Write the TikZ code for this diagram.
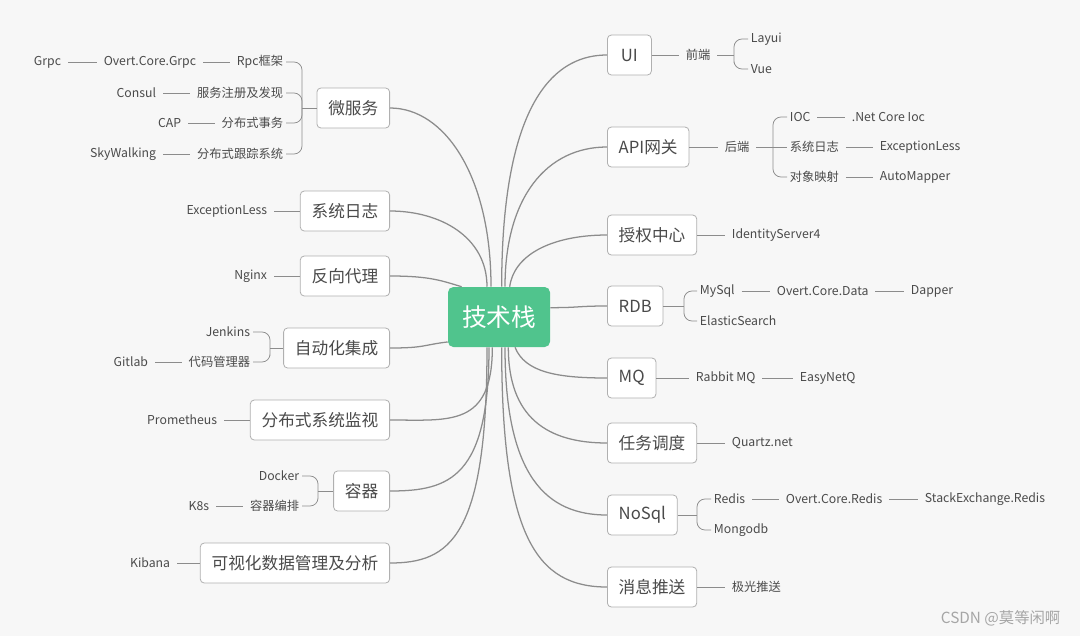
\documentclass[tikz,border=0pt]{standalone}
\usepackage{fontspec}
\setmainfont{Noto Sans CJK SC}
\usepackage{xcolor}
\usepackage{tikz}
\definecolor{BTGreen}{HTML}{50C48D}
\definecolor{BTLine}{HTML}{8C8C8C}
\definecolor{BTBorder}{HTML}{B0B0B0}
\definecolor{BTText}{HTML}{4A4A4A}
\definecolor{BTBack}{HTML}{F7F7F7}
\definecolor{BTMark}{HTML}{A6A6A6}
\tikzset{
  topic/.style={draw=BTBorder,fill=white,rounded corners=3pt,line width=.6pt,
    minimum height=30pt,minimum width=33pt,inner xsep=8.5pt,text=BTText,
    font=\fontsize{12.5}{14}\selectfont},
  leaf/.style={inner sep=2pt,text=BTText,font=\fontsize{9.2}{11}\selectfont},
  branch/.style={draw=BTLine,line width=.95pt},
  twig/.style={draw=BTLine,line width=.55pt,rounded corners=6pt},
  link/.style={twig,shorten <=3pt,shorten >=3pt},
}
\begin{document}
\begin{tikzpicture}[x=.75pt,y=-.75pt]
\path[use as bounding box] (0,0) rectangle (1080,636);
\fill[BTBack] (0,0) rectangle (1080,636);
% centre
\node[fill=BTGreen,rounded corners=4pt,minimum width=76.5pt,minimum height=45pt,
  text=white,font=\fontsize{18.5}{20}\selectfont] (root) at (499,317) {技术栈};
% left topics
\node[topic,anchor=east] (ms) at (390,108) {微服务};
\node[topic,anchor=east] (log) at (390,211) {系统日志};
\node[topic,anchor=east] (proxy) at (390,276) {反向代理};
\node[topic,anchor=east] (ci) at (390,348) {自动化集成};
\node[topic,anchor=east] (mon) at (390,420) {分布式系统监视};
\node[topic,anchor=east] (ctr) at (390,491) {容器};
\node[topic,anchor=east] (viz) at (390,563) {可视化数据管理及分析};
% right topics
\node[topic,anchor=west] (ui) at (607,55) {UI};
\node[topic,anchor=west] (api) at (607,147) {API网关};
\node[topic,anchor=west] (auth) at (607,235) {授权中心};
\node[topic,anchor=west] (rdb) at (607,306) {RDB};
\node[topic,anchor=west] (mq) at (607,378) {MQ};
\node[topic,anchor=west] (job) at (607,443) {任务调度};
\node[topic,anchor=west] (nosql) at (607,515) {NoSql};
\node[topic,anchor=west] (push) at (607,587) {消息推送};
% branches
\draw[branch] (ms.east) .. controls +(55,0) and +(0,-110) .. ([xshift=-6pt]root.north);
\draw[branch] (log.east) .. controls +(50,0) and +(0,-50) .. ([xshift=-9pt]root.north);
\draw[branch] (proxy.east) .. controls +(40,0) and +(-20,-6) .. ([xshift=-28pt]root.north);
\draw[branch] (ci.east) .. controls +(35,0) and +(-25,3) .. ([yshift=4pt]root.south west);
\draw[branch] (mon.east) .. controls +(60,0) and +(0,80) .. ([xshift=-5pt]root.south);
\draw[branch] (ctr.east) .. controls +(60,0) and +(0,130) .. ([xshift=-7.5pt]root.south);
\draw[branch] (viz.east) .. controls +(60,0) and +(0,190) .. ([xshift=-9pt]root.south);
\draw[branch] ([xshift=2pt]root.north) .. controls +(0,-150) and +(-70,0) .. (ui.west);
\draw[branch] ([xshift=4.5pt]root.north) .. controls +(0,-90) and +(-60,0) .. (api.west);
\draw[branch] ([xshift=8pt]root.north) .. controls +(5,-35) and +(-50,0) .. (auth.west);
\draw[branch] ([yshift=7pt]root.east) .. controls +(30,0) and +(-30,0) .. (rdb.west);
\draw[branch] ([xshift=12pt]root.south) .. controls +(10,25) and +(-50,0) .. (mq.west);
\draw[branch] ([xshift=7pt]root.south) .. controls +(0,70) and +(-60,0) .. (job.west);
\draw[branch] ([xshift=4.5pt]root.south) .. controls +(0,130) and +(-60,0) .. (nosql.west);
\draw[branch] ([xshift=2pt]root.south) .. controls +(0,190) and +(-70,0) .. (push.west);
% 微服务
\node[leaf,anchor=east] (rpc) at (286,62) {Rpc框架};
\node[leaf,anchor=east] (ocg) at (199,62) {Overt.Core.Grpc};
\node[leaf,anchor=east] (grpc) at (64,62) {Grpc};
\node[leaf,anchor=east] (reg) at (286,93) {服务注册及发现};
\node[leaf,anchor=east] (consul) at (159,93) {Consul};
\node[leaf,anchor=east] (tx) at (286,123) {分布式事务};
\node[leaf,anchor=east] (cap) at (184,123) {CAP};
\node[leaf,anchor=east] (trace) at (286,154) {分布式跟踪系统};
\node[leaf,anchor=east] (sky) at (159,154) {SkyWalking};
\coordinate (msj) at (302,108);
\draw[twig] (rpc.east) -| (msj) |- (trace.east);
\draw[twig] (reg.east) -| (msj);
\draw[twig] (tx.east) -| (msj);
\draw[twig] (msj) -- (ms.west);
\draw[link] (grpc) -- (ocg);
\draw[link] (ocg) -- (rpc);
\draw[link] (consul) -- (reg);
\draw[link] (cap) -- (tx);
\draw[link] (sky) -- (trace);
% 系统日志, 反向代理
\node[leaf,anchor=east] (exl) at (270,211) {ExceptionLess};
\node[leaf,anchor=east] (nginx) at (270,276) {Nginx};
\draw[twig,shorten <=3pt] (exl) -- (log);
\draw[twig,shorten <=3pt] (nginx) -- (proxy);
% 自动化集成
\node[leaf,anchor=east] (jenkins) at (253,332) {Jenkins};
\node[leaf,anchor=east] (codemgr) at (253,362) {代码管理器};
\node[leaf,anchor=east] (gitlab) at (151,362) {Gitlab};
\coordinate (cij) at (270,348);
\draw[twig] (jenkins.east) -| (cij) |- (codemgr.east);
\draw[twig] (cij) -- (ci.west);
\draw[link] (gitlab) -- (codemgr);
% 分布式系统监视
\node[leaf,anchor=east] (prom) at (220,420) {Prometheus};
\draw[twig,shorten <=3pt] (prom) -- (mon);
% 容器
\node[leaf,anchor=east] (docker) at (302,476) {Docker};
\node[leaf,anchor=east] (orch) at (302,506) {容器编排};
\node[leaf,anchor=east] (k8s) at (212,506) {K8s};
\coordinate (ctrj) at (318,491);
\draw[twig] (docker.east) -| (ctrj) |- (orch.east);
\draw[twig] (ctrj) -- (ctr.west);
\draw[link] (k8s) -- (orch);
% 可视化数据管理及分析
\node[leaf,anchor=east] (kibana) at (173,563) {Kibana};
\draw[twig,shorten <=3pt] (kibana) -- (viz);
% UI
\node[leaf,anchor=west] (fe) at (683,55) {前端};
\node[leaf,anchor=west] (layui) at (748,39) {Layui};
\node[leaf,anchor=west] (vue) at (748,69) {Vue};
\coordinate (uij) at (734,55);
\draw[twig,shorten >=3pt] (ui) -- (fe);
\draw[twig,shorten <=3pt] (fe.east) -- (uij);
\draw[twig] (layui.west) -| (uij) |- (vue.west);
% API网关
\node[leaf,anchor=west] (be) at (722,147) {后端};
\node[leaf,anchor=west] (ioc) at (787,117) {IOC};
\node[leaf,anchor=west] (netioc) at (849,117) {.Net Core Ioc};
\node[leaf,anchor=west] (syslog) at (787,147) {系统日志};
\node[leaf,anchor=west] (exl2) at (877,147) {ExceptionLess};
\node[leaf,anchor=west] (map) at (787,177) {对象映射};
\node[leaf,anchor=west] (automapper) at (877,177) {AutoMapper};
\coordinate (apij) at (773,147);
\draw[twig,shorten >=3pt] (api) -- (be);
\draw[twig,shorten <=3pt] (be.east) -- (apij);
\draw[twig] (ioc.west) -| (apij) |- (map.west);
\draw[twig] (apij) -- (syslog.west);
\draw[link] (ioc) -- (netioc);
\draw[link] (syslog) -- (exl2);
\draw[link] (map) -- (automapper);
% 授权中心
\node[leaf,anchor=west] (ids) at (729,235) {IdentityServer4};
\draw[twig,shorten >=3pt] (auth) -- (ids);
% RDB
\node[leaf,anchor=west] (mysql) at (697,291) {MySql};
\node[leaf,anchor=west] (ocd) at (774,291) {Overt.Core.Data};
\node[leaf,anchor=west] (dapper) at (908,291) {Dapper};
\node[leaf,anchor=west] (es) at (697,321) {ElasticSearch};
\coordinate (rdbj) at (684,306);
\draw[twig] (rdb.east) -- (rdbj);
\draw[twig] (mysql.west) -| (rdbj) |- (es.west);
\draw[link] (mysql) -- (ocd);
\draw[link] (ocd) -- (dapper);
% MQ
\node[leaf,anchor=west] (rabbit) at (693,378) {Rabbit MQ};
\node[leaf,anchor=west] (easy) at (797,378) {EasyNetQ};
\draw[twig,shorten >=3pt] (mq) -- (rabbit);
\draw[link] (rabbit) -- (easy);
% 任务调度
\node[leaf,anchor=west] (quartz) at (729,443) {Quartz.net};
\draw[twig,shorten >=3pt] (job) -- (quartz);
% NoSql
\node[leaf,anchor=west] (redis) at (711,499) {Redis};
\node[leaf,anchor=west] (ocr) at (783,499) {Overt.Core.Redis};
\node[leaf,anchor=west] (ser) at (922,499) {StackExchange.Redis};
\node[leaf,anchor=west] (mongo) at (711,530) {Mongodb};
\coordinate (nsj) at (697,515);
\draw[twig] (nosql.east) -- (nsj);
\draw[twig] (redis.west) -| (nsj) |- (mongo.west);
\draw[link] (redis) -- (ocr);
\draw[link] (ocr) -- (ser);
% 消息推送
\node[leaf,anchor=west] (jg) at (729,587) {极光推送};
\draw[twig,shorten >=3pt] (push) -- (jg);
% watermark
\node[anchor=east,text=BTMark,font=\fontsize{11.5}{13}\selectfont] (mark) at (1065,618) {CSDN @莫等闲啊};
\end{tikzpicture}
\end{document}
